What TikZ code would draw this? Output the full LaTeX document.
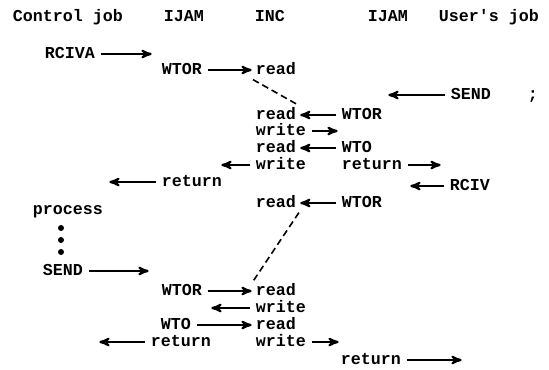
\documentclass[tikz,border=0pt]{standalone}
\usepackage{fontspec}
\setmainfont{Liberation Mono}
\usetikzlibrary{arrows}

\begin{document}
\begin{tikzpicture}[
    x = 0.75pt,
    y = -0.75pt,
    >=stealth',
    word/.style = {
      anchor = west,
      inner sep = 2pt,
      font = \fontsize{12.5}{14}\selectfont\bfseries,
      text height = 1.6ex,
      text depth = 0.3ex
    },
    arr/.style = {
      ->,
      line width = 1.6pt,
      shorten >= 1pt,
      shorten <= 2pt
    },
    link/.style = {
      line width = 1.2pt,
      dash pattern = on 5pt off 3pt
    },
    dot/.style = {
      fill = black,
      circle,
      inner sep = 0pt,
      minimum size = 4.5pt
    }
  ]
  \useasboundingbox (0,0) rectangle (549,369);

  % headings
  \node[word] (ctl)   at (10,17)  {Control job};
  \node[word] (ijamA) at (161,17) {IJAM};
  \node[word] (inc)   at (252,17) {INC};
  \node[word] (ijamB) at (365,17) {IJAM};
  \node[word] (user)  at (436,17) {User\textquotesingle s job};

  % first request
  \node[word] (rciva) at (42,54)  {RCIVA};
  \coordinate (rcivaend) at (153,54);
  \node[word] (wtorA) at (159,70) {WTOR};
  \node[word] (readA) at (253,70) {read};
  \node[word] (sendU) at (448,95) {SEND};
  \node[word] (semi)  at (525,95) {;};
  \coordinate (sendUend) at (387,95);

  \node[word] (readB)  at (253,115) {read};
  \node[word] (wtorB)  at (339,115) {WTOR};
  \node[word] (writeB) at (253,131) {write};
  \coordinate (writeBend) at (339,131);
  \node[word] (readC)  at (253,148) {read};
  \node[word] (wtoC)   at (339,148) {WTO};
  \node[word] (writeC) at (253,165) {write};
  \coordinate (writeCend) at (220,165);
  \node[word] (retC)   at (339,165) {return};
  \coordinate (retCend) at (442,165);
  \node[word] (retD)   at (159,182) {return};
  \coordinate (retDend) at (108,182);
  \node[word] (rcivD)  at (447,186) {RCIV};
  \coordinate (rcivDend) at (409,186);
  \node[word] (readE)  at (253,203) {read};
  \node[word] (wtorE)  at (339,203) {WTOR};

  % processing
  \node[word] (proc) at (30,210) {process};
  \node[dot] (d1) at (61,228) {};
  \node[dot] (d2) at (61,240) {};
  \node[dot] (d3) at (61,252) {};

  % second request
  \node[word] (sendF)  at (40,271)  {SEND};
  \coordinate (sendFend) at (150,271);
  \node[word] (wtorG)  at (159,291) {WTOR};
  \node[word] (readG)  at (253,291) {read};
  \node[word] (writeG) at (253,308) {write};
  \coordinate (writeGend) at (210,308);
  \node[word] (wtoH)   at (158,325) {WTO};
  \node[word] (readH)  at (253,325) {read};
  \node[word] (retI)   at (148,342) {return};
  \coordinate (retIend) at (98,342);
  \node[word] (writeI) at (253,342) {write};
  \coordinate (writeIend) at (340,342);
  \node[word] (retJ)   at (338,360) {return};
  \coordinate (retJend) at (463,360);

  \draw[arr] (rciva) -- (rcivaend);
  \draw[arr] (wtorA) -- (readA);
  \draw[arr] (sendU) -- (sendUend);
  \draw[arr] (wtorB) -- (readB);
  \draw[arr] (writeB) -- (writeBend);
  \draw[arr] (wtoC) -- (readC);
  \draw[arr] (writeC) -- (writeCend);
  \draw[arr] (retC) -- (retCend);
  \draw[arr] (retD) -- (retDend);
  \draw[arr] (rcivD) -- (rcivDend);
  \draw[arr] (wtorE) -- (readE);
  \draw[arr] (sendF) -- (sendFend);
  \draw[arr] (wtorG) -- (readG);
  \draw[arr] (writeG) -- (writeGend);
  \draw[arr] (wtoH) -- (readH);
  \draw[arr] (retI) -- (retIend);
  \draw[arr] (writeI) -- (writeIend);
  \draw[arr] (retJ) -- (retJend);

  \draw[link] (readA.south west) -- (readB.north east);
  \draw[link] (readE.south east) -- (readG.north west);
\end{tikzpicture}
\end{document}
